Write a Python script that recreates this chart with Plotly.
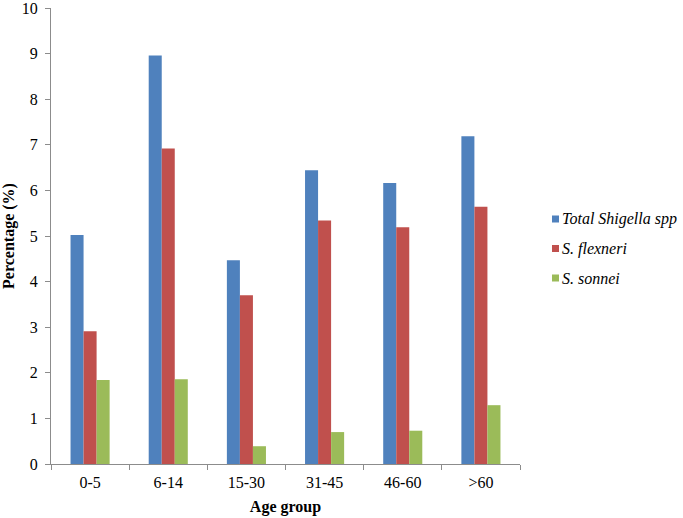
import plotly.graph_objects as go

categories = ["0-5", "6-14", "15-30", "31-45", "46-60", ">60"]
total_shigella = [5.02, 8.96, 4.47, 6.44, 6.16, 7.19]
s_flexneri = [2.91, 6.92, 3.70, 5.34, 5.19, 5.64]
s_sonnei = [1.84, 1.86, 0.39, 0.70, 0.73, 1.29]
series_names = ["Total Shigella spp", "S. flexneri", "S. sonnei"]
colors = ["#4F81BD", "#C0504D", "#9BBB59"]
y_ticks = list(range(0, 11))

W, H = 683, 518
ML, MR, MT, MB = 51, 163, 8, 54

fig = go.Figure()
for name, vals, col in zip(series_names, [total_shigella, s_flexneri, s_sonnei], colors):
    fig.add_trace(go.Bar(x=categories, y=vals, name=name, showlegend=False,
                         marker=dict(color=col, line=dict(width=0))))

font_family = "Liberation Serif"
FS = 16

# manual legend (paper coords computed from pixel positions)
pw, ph = W - ML - MR, H - MT - MB
def px_x(x):
    return (x - ML) / pw
def px_y(y):
    return (H - MB - y) / ph

legend_rows_y = [219, 248.5, 278]
for name, col, yc in zip(series_names, colors, legend_rows_y):
    fig.add_shape(type="rect", xref="paper", yref="paper",
                  x0=px_x(552), x1=px_x(559), y0=px_y(yc + 3.5), y1=px_y(yc - 3.5),
                  fillcolor=col, line=dict(width=0))
    fig.add_annotation(xref="paper", yref="paper", x=px_x(560), y=px_y(yc),
                       xanchor="left", yanchor="middle", showarrow=False,
                       text=f"<i>{name}</i>", font=dict(family=font_family, size=FS, color="black"))

fig.update_layout(
    width=W, height=H,
    margin=dict(l=ML, r=MR, t=MT, b=MB, autoexpand=False),
    plot_bgcolor="white", paper_bgcolor="white",
    barmode="group", bargap=0.5, bargroupgap=0,
    font=dict(family=font_family, size=FS, color="black"),
    showlegend=False,
    xaxis=dict(showline=True, linecolor="#8C8C8C", linewidth=1, automargin=False,
               ticks="outside", tickson="boundaries", ticklen=5, tickcolor="#8C8C8C",
               ticklabelstandoff=4, ticklabeloverflow="allow",
               title=dict(text="<b>Age group</b>", standoff=10, font=dict(family=font_family, size=FS)),
               tickfont=dict(family=font_family, size=FS)),
    yaxis=dict(range=[0, 10], tickvals=y_ticks, showline=True, linecolor="#8C8C8C", linewidth=1,
               automargin=False, ticklabelstandoff=4, ticklabeloverflow="allow",
               ticks="outside", ticklen=5, tickcolor="#8C8C8C", showgrid=False, zeroline=False,
               title=dict(text="<b>Percentage (%)</b>", standoff=6, font=dict(family=font_family, size=FS)),
               tickfont=dict(family=font_family, size=FS)),
)
fig.write_html("out.html", config={"displayModeBar": False},
               post_script="document.body.style.margin='0';document.body.style.overflow='hidden';")
